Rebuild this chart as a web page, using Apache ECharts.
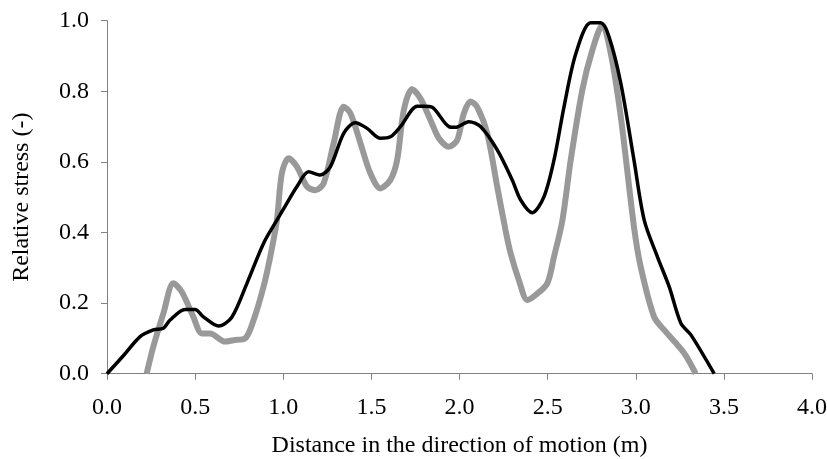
<!DOCTYPE html>
<html>
<head>
<meta charset="utf-8">
<script src="https://cdn.jsdelivr.net/npm/echarts@6/dist/echarts.min.js"></script>
<style>html,body{margin:0;padding:0;background:#fff}#c{width:827px;height:459px}</style>
</head>
<body>
<div id="c"></div>
<script>
var xTicks = [0.0, 0.5, 1.0, 1.5, 2.0, 2.5, 3.0, 3.5, 4.0];
var yTicks = [0.0, 0.2, 0.4, 0.6, 0.8, 1.0];

var blackX = [0, 0.10, 0.188, 0.263, 0.32, 0.358, 0.443, 0.5, 0.547, 0.633, 0.708, 0.794, 0.888, 0.964, 1.021, 1.078, 1.144, 1.21, 1.267, 1.343, 1.409, 1.476, 1.551, 1.608, 1.665, 1.76, 1.798, 1.845, 1.94, 1.977, 2.053, 2.119, 2.214, 2.299, 2.347, 2.413, 2.479, 2.536, 2.593, 2.659, 2.744, 2.801, 2.848, 2.915, 2.99, 3.048, 3.123, 3.19, 3.256, 3.313, 3.445];
var blackY = [0, 0.055, 0.105, 0.124, 0.129, 0.152, 0.182, 0.182, 0.161, 0.135, 0.16, 0.256, 0.369, 0.435, 0.483, 0.53, 0.572, 0.563, 0.586, 0.681, 0.711, 0.695, 0.667, 0.671, 0.7, 0.758, 0.758, 0.755, 0.7, 0.698, 0.714, 0.7, 0.634, 0.549, 0.492, 0.456, 0.501, 0.605, 0.756, 0.905, 0.994, 0.994, 0.955, 0.823, 0.605, 0.435, 0.331, 0.246, 0.143, 0.11, 0.0];

var grayX = [0.225, 0.263, 0.32, 0.377, 0.424, 0.49, 0.538, 0.585, 0.67, 0.718, 0.784, 0.832, 0.888, 0.926, 0.964, 0.992, 1.03, 1.078, 1.135, 1.182, 1.229, 1.286, 1.343, 1.381, 1.438, 1.494, 1.551, 1.608, 1.646, 1.684, 1.731, 1.778, 1.835, 1.883, 1.94, 1.987, 2.025, 2.063, 2.1, 2.157, 2.214, 2.261, 2.29, 2.337, 2.385, 2.432, 2.498, 2.536, 2.584, 2.631, 2.697, 2.754, 2.811, 2.858, 2.915, 2.99, 3.028, 3.104, 3.161, 3.275, 3.34];
var grayY = [0.0, 0.077, 0.171, 0.256, 0.232, 0.161, 0.114, 0.114, 0.091, 0.095, 0.1, 0.152, 0.246, 0.331, 0.435, 0.568, 0.61, 0.586, 0.53, 0.52, 0.539, 0.653, 0.756, 0.738, 0.653, 0.568, 0.525, 0.549, 0.605, 0.747, 0.806, 0.78, 0.719, 0.667, 0.643, 0.662, 0.738, 0.771, 0.756, 0.681, 0.53, 0.407, 0.341, 0.265, 0.209, 0.223, 0.256, 0.331, 0.435, 0.605, 0.804, 0.917, 0.988, 0.908, 0.728, 0.416, 0.303, 0.161, 0.124, 0.058, 0.0];

function pairs(xs, ys) { return xs.map(function (x, i) { return [x, ys[i]]; }); }

var font = '"Liberation Serif", "Times New Roman", serif';
var chart = echarts.init(document.getElementById('c'), null, {renderer: 'canvas'});
chart.setOption({
  animation: false,
  backgroundColor: '#ffffff',
  grid: {left: 107, right: 15, top: 20.7, bottom: 85.3, containLabel: false, outerBoundsMode: 'none'},
  xAxis: {
    type: 'value', min: 0, max: 4, interval: 0.5,
    name: 'Distance in the direction of motion (m)', nameLocation: 'middle', nameGap: 60,
    nameTextStyle: {fontFamily: font, fontSize: 24, color: '#000'},
    axisLine: {show: true, onZero: false, lineStyle: {color: '#808080', width: 1}},
    axisTick: {show: true, inside: false, length: 6, lineStyle: {color: '#808080'}},
    axisLabel: {fontFamily: font, fontSize: 24, color: '#000', margin: 22,
      formatter: function (v) { return v.toFixed(1); }},
    splitLine: {show: false}
  },
  yAxis: {
    type: 'value', min: 0, max: 1, interval: 0.2,
    name: 'Relative stress (-)', nameLocation: 'middle', nameGap: 73, nameRotate: 90,
    nameTextStyle: {fontFamily: font, fontSize: 24, color: '#000'},
    axisLine: {show: true, lineStyle: {color: '#808080', width: 1}},
    axisTick: {show: true, inside: false, length: 6, lineStyle: {color: '#808080'}},
    axisLabel: {fontFamily: font, fontSize: 24, color: '#000', margin: 18,
      formatter: function (v) { return v.toFixed(1); }},
    splitLine: {show: false}
  },
  series: [
    {type: 'line', data: pairs(grayX, grayY), showSymbol: false, smooth: 0.3,
     lineStyle: {color: '#999999', width: 6}, z: 2},
    {type: 'line', data: pairs(blackX, blackY), showSymbol: false, smooth: 0.3,
     lineStyle: {color: '#000000', width: 3.5}, z: 3}
  ]
});
</script>
</body>
</html>
